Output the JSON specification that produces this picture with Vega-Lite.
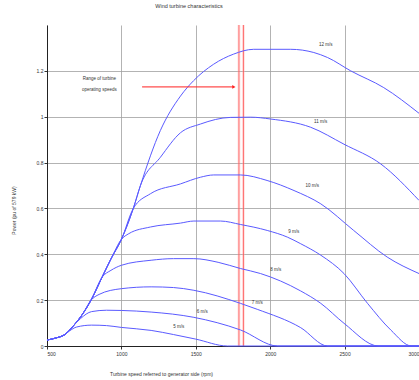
{
 "$schema": "https://vega.github.io/schema/vega-lite/v6.json",
 "width": 372, "height": 321,
 "autosize": {"type": "none"},
 "padding": {"left": 47, "top": 25, "right": 0, "bottom": 34},
 "background": "white",
 "title": {"text": "Wind turbine characteristics", "fontSize": 5.5, "font": "Liberation Sans", "fontWeight": "normal", "color": "#333", "anchor": "middle", "dx": -44, "offset": 14},
 "config": {"view": {"stroke": null}, "font": "Liberation Sans"},
 "datasets": {
  "curves": [
   {"ws": "5", "rpm": 500, "p": 0.026}, {"ws": "5", "rpm": 560, "p": 0.035}, {"ws": "5", "rpm": 620, "p": 0.05}, {"ws": "5", "rpm": 650, "p": 0.065}, {"ws": "5", "rpm": 700, "p": 0.083}, {"ws": "5", "rpm": 800, "p": 0.091}, {"ws": "5", "rpm": 900, "p": 0.089}, {"ws": "5", "rpm": 1000, "p": 0.081}, {"ws": "5", "rpm": 1200, "p": 0.068}, {"ws": "5", "rpm": 1350, "p": 0.05}, {"ws": "5", "rpm": 1500, "p": 0.03}, {"ws": "5", "rpm": 1713, "p": 0}, {"ws": "5", "rpm": 3000, "p": 0},
   {"ws": "6", "rpm": 500, "p": 0.026}, {"ws": "6", "rpm": 560, "p": 0.035}, {"ws": "6", "rpm": 620, "p": 0.05}, {"ws": "6", "rpm": 680, "p": 0.09}, {"ws": "6", "rpm": 726, "p": 0.12}, {"ws": "6", "rpm": 800, "p": 0.15}, {"ws": "6", "rpm": 900, "p": 0.156}, {"ws": "6", "rpm": 1000, "p": 0.155}, {"ws": "6", "rpm": 1200, "p": 0.148}, {"ws": "6", "rpm": 1487, "p": 0.125}, {"ws": "6", "rpm": 1800, "p": 0.07}, {"ws": "6", "rpm": 2050, "p": 0}, {"ws": "6", "rpm": 3000, "p": 0},
   {"ws": "7", "rpm": 500, "p": 0.026}, {"ws": "7", "rpm": 560, "p": 0.035}, {"ws": "7", "rpm": 620, "p": 0.05}, {"ws": "7", "rpm": 680, "p": 0.09}, {"ws": "7", "rpm": 740, "p": 0.14}, {"ws": "7", "rpm": 796, "p": 0.2}, {"ws": "7", "rpm": 850, "p": 0.225}, {"ws": "7", "rpm": 1000, "p": 0.25}, {"ws": "7", "rpm": 1200, "p": 0.258}, {"ws": "7", "rpm": 1350, "p": 0.255}, {"ws": "7", "rpm": 1487, "p": 0.243}, {"ws": "7", "rpm": 1800, "p": 0.186}, {"ws": "7", "rpm": 1913, "p": 0.16}, {"ws": "7", "rpm": 2205, "p": 0.08}, {"ws": "7", "rpm": 2386, "p": 0}, {"ws": "7", "rpm": 3000, "p": 0},
   {"ws": "8", "rpm": 500, "p": 0.026}, {"ws": "8", "rpm": 560, "p": 0.035}, {"ws": "8", "rpm": 620, "p": 0.05}, {"ws": "8", "rpm": 680, "p": 0.09}, {"ws": "8", "rpm": 740, "p": 0.14}, {"ws": "8", "rpm": 800, "p": 0.205}, {"ws": "8", "rpm": 870, "p": 0.3}, {"ws": "8", "rpm": 930, "p": 0.33}, {"ws": "8", "rpm": 1000, "p": 0.352}, {"ws": "8", "rpm": 1200, "p": 0.374}, {"ws": "8", "rpm": 1350, "p": 0.381}, {"ws": "8", "rpm": 1487, "p": 0.381}, {"ws": "8", "rpm": 1650, "p": 0.365}, {"ws": "8", "rpm": 1800, "p": 0.338}, {"ws": "8", "rpm": 1935, "p": 0.316}, {"ws": "8", "rpm": 2205, "p": 0.24}, {"ws": "8", "rpm": 2340, "p": 0.186}, {"ws": "8", "rpm": 2496, "p": 0.099}, {"ws": "8", "rpm": 2728, "p": 0}, {"ws": "8", "rpm": 3000, "p": 0},
   {"ws": "9", "rpm": 500, "p": 0.026}, {"ws": "9", "rpm": 560, "p": 0.035}, {"ws": "9", "rpm": 620, "p": 0.05}, {"ws": "9", "rpm": 680, "p": 0.09}, {"ws": "9", "rpm": 740, "p": 0.14}, {"ws": "9", "rpm": 800, "p": 0.205}, {"ws": "9", "rpm": 870, "p": 0.3}, {"ws": "9", "rpm": 930, "p": 0.38}, {"ws": "9", "rpm": 1000, "p": 0.465}, {"ws": "9", "rpm": 1050, "p": 0.49}, {"ws": "9", "rpm": 1195, "p": 0.519}, {"ws": "9", "rpm": 1397, "p": 0.536}, {"ws": "9", "rpm": 1487, "p": 0.545}, {"ws": "9", "rpm": 1666, "p": 0.545}, {"ws": "9", "rpm": 1800, "p": 0.53}, {"ws": "9", "rpm": 1980, "p": 0.504}, {"ws": "9", "rpm": 2115, "p": 0.475}, {"ws": "9", "rpm": 2205, "p": 0.446}, {"ws": "9", "rpm": 2340, "p": 0.396}, {"ws": "9", "rpm": 2496, "p": 0.316}, {"ws": "9", "rpm": 2654, "p": 0.186}, {"ws": "9", "rpm": 2810, "p": 0.07}, {"ws": "9", "rpm": 2950, "p": 0}, {"ws": "9", "rpm": 3000, "p": 0},
   {"ws": "10", "rpm": 500, "p": 0.026}, {"ws": "10", "rpm": 560, "p": 0.035}, {"ws": "10", "rpm": 620, "p": 0.05}, {"ws": "10", "rpm": 680, "p": 0.09}, {"ws": "10", "rpm": 740, "p": 0.14}, {"ws": "10", "rpm": 800, "p": 0.205}, {"ws": "10", "rpm": 870, "p": 0.3}, {"ws": "10", "rpm": 930, "p": 0.38}, {"ws": "10", "rpm": 1000, "p": 0.465}, {"ws": "10", "rpm": 1080, "p": 0.6}, {"ws": "10", "rpm": 1195, "p": 0.664}, {"ws": "10", "rpm": 1397, "p": 0.707}, {"ws": "10", "rpm": 1531, "p": 0.736}, {"ws": "10", "rpm": 1620, "p": 0.746}, {"ws": "10", "rpm": 1800, "p": 0.746}, {"ws": "10", "rpm": 1979, "p": 0.722}, {"ws": "10", "rpm": 2160, "p": 0.678}, {"ws": "10", "rpm": 2340, "p": 0.62}, {"ws": "10", "rpm": 2561, "p": 0.504}, {"ws": "10", "rpm": 2786, "p": 0.388}, {"ws": "10", "rpm": 3000, "p": 0.316},
   {"ws": "11", "rpm": 500, "p": 0.026}, {"ws": "11", "rpm": 560, "p": 0.035}, {"ws": "11", "rpm": 620, "p": 0.05}, {"ws": "11", "rpm": 680, "p": 0.09}, {"ws": "11", "rpm": 740, "p": 0.14}, {"ws": "11", "rpm": 800, "p": 0.205}, {"ws": "11", "rpm": 870, "p": 0.3}, {"ws": "11", "rpm": 930, "p": 0.38}, {"ws": "11", "rpm": 1000, "p": 0.465}, {"ws": "11", "rpm": 1080, "p": 0.6}, {"ws": "11", "rpm": 1128, "p": 0.7}, {"ws": "11", "rpm": 1262, "p": 0.823}, {"ws": "11", "rpm": 1397, "p": 0.93}, {"ws": "11", "rpm": 1531, "p": 0.968}, {"ws": "11", "rpm": 1733, "p": 0.997}, {"ws": "11", "rpm": 1868, "p": 0.998}, {"ws": "11", "rpm": 2003, "p": 0.99}, {"ws": "11", "rpm": 2272, "p": 0.954}, {"ws": "11", "rpm": 2496, "p": 0.88}, {"ws": "11", "rpm": 2743, "p": 0.794}, {"ws": "11", "rpm": 3000, "p": 0.635},
   {"ws": "12", "rpm": 500, "p": 0.026}, {"ws": "12", "rpm": 560, "p": 0.035}, {"ws": "12", "rpm": 620, "p": 0.05}, {"ws": "12", "rpm": 680, "p": 0.09}, {"ws": "12", "rpm": 740, "p": 0.14}, {"ws": "12", "rpm": 800, "p": 0.205}, {"ws": "12", "rpm": 870, "p": 0.3}, {"ws": "12", "rpm": 930, "p": 0.38}, {"ws": "12", "rpm": 1000, "p": 0.465}, {"ws": "12", "rpm": 1080, "p": 0.6}, {"ws": "12", "rpm": 1128, "p": 0.7}, {"ws": "12", "rpm": 1262, "p": 0.94}, {"ws": "12", "rpm": 1397, "p": 1.09}, {"ws": "12", "rpm": 1485, "p": 1.157}, {"ws": "12", "rpm": 1620, "p": 1.229}, {"ws": "12", "rpm": 1754, "p": 1.273}, {"ws": "12", "rpm": 1889, "p": 1.294}, {"ws": "12", "rpm": 2138, "p": 1.294}, {"ws": "12", "rpm": 2293, "p": 1.28}, {"ws": "12", "rpm": 2386, "p": 1.258}, {"ws": "12", "rpm": 2541, "p": 1.2}, {"ws": "12", "rpm": 2763, "p": 1.127}, {"ws": "12", "rpm": 3000, "p": 1.015}
  ],
  "labels": [
   {"t": "12 m/s", "rpm": 2374, "p": 1.313},
   {"t": "11 m/s", "rpm": 2339, "p": 0.975},
   {"t": "10 m/s", "rpm": 2283, "p": 0.7},
   {"t": "9 m/s", "rpm": 2158, "p": 0.496},
   {"t": "8 m/s", "rpm": 2037, "p": 0.333},
   {"t": "7 m/s", "rpm": 1913, "p": 0.188},
   {"t": "6 m/s", "rpm": 1543, "p": 0.149},
   {"t": "5 m/s", "rpm": 1386, "p": 0.081}
  ],
  "range": [{"rpm": 1790}, {"rpm": 1820}],
  "arrow": [{"a": 1139, "b": 1756, "p": 1.13}],
  "note": [{"t": "Range of turbine", "rpm": 852, "p": 1.163}, {"t": "operating speeds", "rpm": 852, "p": 1.118}]
 },
 "layer": [
  {
   "data": {"name": "range"},
   "mark": {"type": "rule", "color": "#ffb3b3", "strokeWidth": 3, "opacity": 0.35},
   "encoding": {"x": {"field": "rpm", "type": "quantitative", "scale": {"domain": [500, 3000], "nice": false, "zero": false},
     "axis": {"values": [500, 1000, 1500, 2000, 2500, 3000], "format": "d", "labelFontSize": 5, "labelColor": "#333", "labelPadding": 2, "tickSize": 3, "tickColor": "#333", "grid": true, "gridColor": "#a0a0a0", "gridWidth": 0.8, "domainColor": "#222", "title": "Turbine speed referred to generator side (rpm)", "titleFontSize": 5, "titleFontWeight": "normal", "titleColor": "#333", "titleX": 114, "titleY": 27, "titleBaseline": "middle"}}}
  },
  {
   "data": {"name": "range"},
   "mark": {"type": "rule", "color": "#ff4a4a", "strokeWidth": 0.8},
   "encoding": {"x": {"field": "rpm", "type": "quantitative"}}
  },
  {
   "data": {"name": "curves"},
   "mark": {"type": "line", "color": "#5a5aff", "strokeWidth": 1, "interpolate": "monotone"},
   "encoding": {
    "x": {"field": "rpm", "type": "quantitative"},
    "y": {"field": "p", "type": "quantitative", "scale": {"domain": [0, 1.4], "nice": false},
     "axis": {"values": [0, 0.2, 0.4, 0.6, 0.8, 1, 1.2], "format": "~g", "labelFontSize": 5, "labelColor": "#333", "labelPadding": 1, "tickSize": 3, "tickColor": "#333", "grid": true, "gridColor": "#a0a0a0", "gridWidth": 0.8, "domainColor": "#222", "title": "Power (pu of 579 kW)", "titleFontSize": 5, "titleFontWeight": "normal", "titleColor": "#333", "titleX": -34, "titleY": 185, "titleAlign": "center", "titleBaseline": "middle"}},
    "detail": {"field": "ws"}
   }
  },
  {
   "data": {"name": "arrow"},
   "mark": {"type": "rule", "color": "#ff2020", "strokeWidth": 1},
   "encoding": {"x": {"field": "a", "type": "quantitative"}, "x2": {"field": "b"}, "y": {"field": "p", "type": "quantitative"}}
  },
  {
   "data": {"name": "arrow"},
   "mark": {"type": "point", "shape": "triangle-right", "filled": true, "color": "#ff2020", "size": 14, "opacity": 1},
   "encoding": {"x": {"field": "b", "type": "quantitative"}, "y": {"field": "p", "type": "quantitative"}}
  },
  {
   "data": {"name": "labels"},
   "mark": {"type": "text", "fontSize": 4.5, "color": "#333", "align": "center", "baseline": "middle"},
   "encoding": {"x": {"field": "rpm", "type": "quantitative"}, "y": {"field": "p", "type": "quantitative"}, "text": {"field": "t"}}
  },
  {
   "data": {"name": "note"},
   "mark": {"type": "text", "fontSize": 4.5, "color": "#333", "align": "center", "baseline": "middle"},
   "encoding": {"x": {"field": "rpm", "type": "quantitative"}, "y": {"field": "p", "type": "quantitative"}, "text": {"field": "t"}}
  }
 ]
}
